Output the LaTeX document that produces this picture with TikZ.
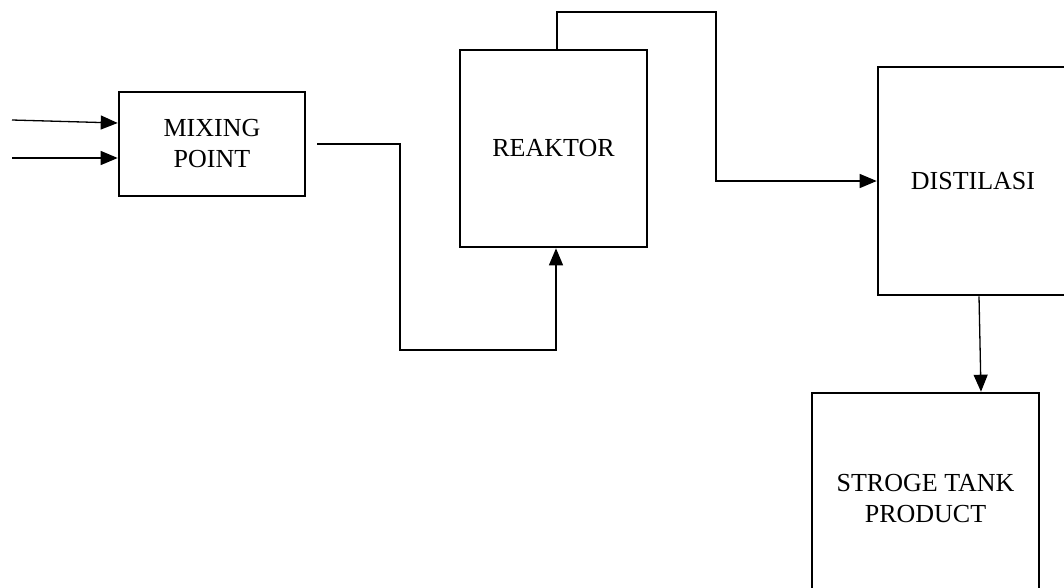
\documentclass[tikz,border=0pt]{standalone}
\usepackage{fontspec}
\setmainfont{Liberation Serif}
\usetikzlibrary{arrows.meta}
\tikzset{
  unit/.style={draw, line width=2.6pt, fill=white, align=center,
    font=\fontsize{26}{31}\selectfont, inner sep=0pt},
  flow/.style={line width=1.3pt},
  flowarrow/.style={flow, -{Triangle[length=17pt,width=14pt]}},
}
\begin{document}
\begin{tikzpicture}[x=1pt, y=-1pt]
  \path[use as bounding box, clip] (0,0) rectangle (1064,587);

  % process units
  \node[unit, minimum width=186pt, minimum height=104pt] (mix) at (212,144) {MIXING\\POINT};
  \node[unit, minimum width=187pt, minimum height=197pt] (reak) at (553.5,148.5) {REAKTOR};
  \node[unit, minimum width=190pt, minimum height=228pt] (dist) at (973,181) {DISTILASI};
  \node[unit, minimum width=227pt, minimum height=212pt] (tank) at (925.5,499) {STROGE TANK\\PRODUCT};

  % feed streams
  \coordinate (in1) at (12,120);
  \coordinate (in2) at (12,158);
  \draw[flowarrow] (in1) -- ([yshift=21pt]mix.west);
  \draw[flowarrow] (in2) -- ([yshift=-14pt]mix.west);

  % mixing point to reactor
  \coordinate (m1) at ([xshift=11pt]mix.east);
  \coordinate (m2) at (400,350);
  \draw[flowarrow] (m1) -| (m2) -| ([xshift=2.5pt]reak.south);

  % reactor to distillation
  \coordinate (r1) at (716,12);
  \draw[flowarrow] ([xshift=3.5pt]reak.north) |- (r1) |- (dist.west);

  % distillation to storage tank
  \draw[flowarrow] ([xshift=6pt]dist.south) -- ([xshift=55.5pt]tank.north);
\end{tikzpicture}
\end{document}
